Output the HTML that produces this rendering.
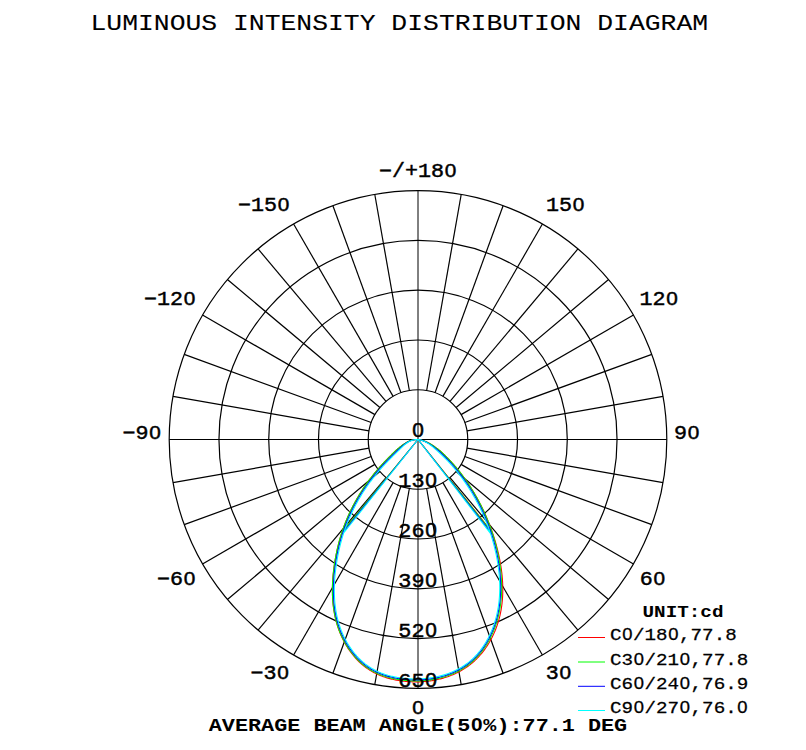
<!DOCTYPE html>
<html><head><meta charset="utf-8"><style>
html,body{margin:0;padding:0;background:#fff;width:806px;height:750px;overflow:hidden}
svg{position:absolute;left:0;top:0}
text{font-family:"Liberation Mono",monospace}
</style></head><body>
<svg width="806" height="750" viewBox="0 0 806 750">
<circle cx="418.0" cy="439.5" r="49.76" fill="none" stroke="#000" stroke-width="1.2"/>
<circle cx="418.0" cy="439.5" r="99.52" fill="none" stroke="#000" stroke-width="1.2"/>
<circle cx="418.0" cy="439.5" r="149.28" fill="none" stroke="#000" stroke-width="1.2"/>
<circle cx="418.0" cy="439.5" r="199.04" fill="none" stroke="#000" stroke-width="1.2"/>
<circle cx="418.0" cy="439.5" r="248.80" fill="none" stroke="#000" stroke-width="1.2"/>
<line x1="426.64" y1="488.50" x2="461.20" y2="684.52" stroke="#000" stroke-width="1.2"/>
<line x1="435.02" y1="486.26" x2="503.09" y2="673.30" stroke="#000" stroke-width="1.2"/>
<line x1="442.88" y1="482.59" x2="542.40" y2="654.97" stroke="#000" stroke-width="1.2"/>
<line x1="449.99" y1="477.62" x2="577.93" y2="630.09" stroke="#000" stroke-width="1.2"/>
<line x1="456.12" y1="471.49" x2="608.59" y2="599.43" stroke="#000" stroke-width="1.2"/>
<line x1="461.09" y1="464.38" x2="633.47" y2="563.90" stroke="#000" stroke-width="1.2"/>
<line x1="464.76" y1="456.52" x2="651.80" y2="524.59" stroke="#000" stroke-width="1.2"/>
<line x1="467.00" y1="448.14" x2="663.02" y2="482.70" stroke="#000" stroke-width="1.2"/>
<line x1="467.00" y1="430.86" x2="663.02" y2="396.30" stroke="#000" stroke-width="1.2"/>
<line x1="464.76" y1="422.48" x2="651.80" y2="354.41" stroke="#000" stroke-width="1.2"/>
<line x1="461.09" y1="414.62" x2="633.47" y2="315.10" stroke="#000" stroke-width="1.2"/>
<line x1="456.12" y1="407.51" x2="608.59" y2="279.57" stroke="#000" stroke-width="1.2"/>
<line x1="449.99" y1="401.38" x2="577.93" y2="248.91" stroke="#000" stroke-width="1.2"/>
<line x1="442.88" y1="396.41" x2="542.40" y2="224.03" stroke="#000" stroke-width="1.2"/>
<line x1="435.02" y1="392.74" x2="503.09" y2="205.70" stroke="#000" stroke-width="1.2"/>
<line x1="426.64" y1="390.50" x2="461.20" y2="194.48" stroke="#000" stroke-width="1.2"/>
<line x1="409.36" y1="390.50" x2="374.80" y2="194.48" stroke="#000" stroke-width="1.2"/>
<line x1="400.98" y1="392.74" x2="332.91" y2="205.70" stroke="#000" stroke-width="1.2"/>
<line x1="393.12" y1="396.41" x2="293.60" y2="224.03" stroke="#000" stroke-width="1.2"/>
<line x1="386.01" y1="401.38" x2="258.07" y2="248.91" stroke="#000" stroke-width="1.2"/>
<line x1="379.88" y1="407.51" x2="227.41" y2="279.57" stroke="#000" stroke-width="1.2"/>
<line x1="374.91" y1="414.62" x2="202.53" y2="315.10" stroke="#000" stroke-width="1.2"/>
<line x1="371.24" y1="422.48" x2="184.20" y2="354.41" stroke="#000" stroke-width="1.2"/>
<line x1="369.00" y1="430.86" x2="172.98" y2="396.30" stroke="#000" stroke-width="1.2"/>
<line x1="369.00" y1="448.14" x2="172.98" y2="482.70" stroke="#000" stroke-width="1.2"/>
<line x1="371.24" y1="456.52" x2="184.20" y2="524.59" stroke="#000" stroke-width="1.2"/>
<line x1="374.91" y1="464.38" x2="202.53" y2="563.90" stroke="#000" stroke-width="1.2"/>
<line x1="379.88" y1="471.49" x2="227.41" y2="599.43" stroke="#000" stroke-width="1.2"/>
<line x1="386.01" y1="477.62" x2="258.07" y2="630.09" stroke="#000" stroke-width="1.2"/>
<line x1="393.12" y1="482.59" x2="293.60" y2="654.97" stroke="#000" stroke-width="1.2"/>
<line x1="400.98" y1="486.26" x2="332.91" y2="673.30" stroke="#000" stroke-width="1.2"/>
<line x1="409.36" y1="488.50" x2="374.80" y2="684.52" stroke="#000" stroke-width="1.2"/>
<line x1="169.20" y1="439.5" x2="666.80" y2="439.5" stroke="#000" stroke-width="1"/>
<line x1="418.0" y1="190.70" x2="418.0" y2="688.30" stroke="#000" stroke-width="1"/>
<path d="M418.00,439.50L417.01,439.49L416.05,439.54L415.12,439.64L414.21,439.78L413.31,439.92L412.42,440.08L411.55,440.29L410.68,440.55L409.83,440.84L409.00,441.18L408.17,441.55L407.36,441.96L406.56,442.40L405.77,442.87L404.99,443.36L404.23,443.87L403.47,444.41L402.72,444.96L401.98,445.52L401.24,446.09L400.51,446.68L399.79,447.26L399.08,447.85L398.36,448.44L397.66,449.02L396.95,449.61L396.24,450.19L395.57,450.81L394.92,451.44L394.27,452.08L393.63,452.72L392.98,453.36L392.33,454.00L391.69,454.63L391.04,455.27L390.40,455.91L389.76,456.55L389.12,457.20L388.48,457.84L387.84,458.48L387.21,459.13L386.57,459.78L385.94,460.43L385.31,461.09L384.68,461.74L384.05,462.40L383.43,463.07L382.81,463.74L382.19,464.41L381.58,465.08L380.96,465.76L380.35,466.43L379.75,467.12L379.14,467.80L378.54,468.49L377.94,469.18L377.35,469.88L376.76,470.58L376.17,471.28L375.58,471.98L375.00,472.69L374.42,473.40L373.85,474.11L373.27,474.83L372.70,475.55L372.14,476.27L371.57,476.99L371.01,477.72L370.46,478.45L369.90,479.18L369.35,479.91L368.81,480.65L368.26,481.39L367.72,482.13L367.19,482.88L366.65,483.63L366.12,484.38L365.60,485.13L365.08,485.89L364.56,486.64L364.04,487.41L363.53,488.17L363.02,488.93L362.52,489.70L362.02,490.47L361.52,491.25L361.03,492.02L360.54,492.80L360.05,493.58L359.57,494.36L359.09,495.14L358.62,495.93L358.15,496.72L357.68,497.51L357.22,498.30L356.76,499.10L356.30,499.90L355.85,500.70L355.40,501.50L354.96,502.30L354.52,503.11L354.09,503.91L353.66,504.72L353.23,505.54L352.81,506.35L352.39,507.17L351.98,507.98L351.57,508.80L351.16,509.62L350.76,510.45L350.36,511.27L349.97,512.10L349.58,512.93L349.20,513.76L348.82,514.59L348.44,515.42L348.07,516.26L347.70,517.09L347.34,517.93L346.98,518.77L346.63,519.62L346.28,520.46L345.94,521.30L345.60,522.15L345.26,523.00L344.93,523.85L344.61,524.70L344.29,525.55L343.97,526.41L343.66,527.26L343.35,528.12L343.05,528.98L342.75,529.84L342.46,530.70L342.17,531.56L341.88,532.42L341.60,533.29L341.33,534.15L341.06,535.02L340.79,535.89L340.53,536.76L340.27,537.63L340.02,538.51L339.77,539.38L339.52,540.26L339.28,541.13L339.05,542.01L338.81,542.89L338.59,543.77L338.36,544.66L338.14,545.54L337.93,546.43L337.71,547.31L337.51,548.20L337.30,549.09L337.10,549.98L336.91,550.88L336.71,551.77L336.53,552.66L336.34,553.56L336.16,554.46L335.99,555.36L335.81,556.26L335.64,557.16L335.48,558.07L335.32,558.97L335.16,559.88L335.01,560.78L334.86,561.69L334.71,562.61L334.57,563.52L334.43,564.43L334.29,565.35L334.16,566.26L334.04,567.18L333.91,568.10L333.80,569.02L333.68,569.94L333.57,570.86L333.47,571.78L333.37,572.70L333.27,573.63L333.18,574.55L333.09,575.48L333.01,576.40L332.94,577.33L332.86,578.26L332.80,579.18L332.74,580.11L332.68,581.04L332.63,581.97L332.58,582.90L332.54,583.82L332.51,584.75L332.48,585.68L332.45,586.61L332.43,587.54L332.42,588.47L332.41,589.40L332.41,590.33L332.41,591.26L332.42,592.19L332.44,593.11L332.46,594.04L332.48,594.97L332.52,595.90L332.56,596.82L332.60,597.75L332.66,598.67L332.71,599.60L332.78,600.52L332.85,601.44L332.93,602.37L333.01,603.29L333.10,604.21L333.20,605.13L333.31,606.05L333.42,606.96L333.54,607.88L333.66,608.80L333.80,609.71L333.94,610.62L334.08,611.53L334.24,612.44L334.40,613.35L334.57,614.26L334.75,615.16L334.93,616.07L335.12,616.97L335.32,617.87L335.53,618.77L335.75,619.67L335.97,620.56L336.20,621.45L336.44,622.34L336.69,623.23L336.95,624.12L337.21,625.01L337.49,625.89L337.77,626.77L338.06,627.65L338.36,628.52L338.66,629.40L338.98,630.27L339.30,631.14L339.64,632.00L339.98,632.87L340.33,633.73L340.69,634.58L341.06,635.44L341.44,636.29L341.83,637.14L342.23,637.99L342.64,638.83L343.06,639.67L343.48,640.51L343.92,641.34L344.36,642.17L344.82,643.00L345.28,643.82L345.75,644.63L346.24,645.45L346.73,646.25L347.23,647.06L347.73,647.85L348.25,648.65L348.78,649.43L349.31,650.21L349.86,650.99L350.41,651.75L350.97,652.52L351.54,653.27L352.12,654.02L352.71,654.76L353.31,655.49L353.91,656.22L354.53,656.94L355.15,657.65L355.78,658.35L356.42,659.05L357.06,659.74L357.72,660.41L358.38,661.08L359.06,661.74L359.74,662.39L360.42,663.03L361.12,663.66L361.83,664.29L362.54,664.90L363.26,665.50L363.99,666.09L364.73,666.67L365.47,667.24L366.22,667.79L366.98,668.34L367.75,668.87L368.53,669.40L369.31,669.91L370.10,670.40L370.90,670.89L371.70,671.36L372.51,671.82L373.33,672.27L374.15,672.70L374.98,673.13L375.81,673.54L376.65,673.94L377.50,674.33L378.35,674.71L379.20,675.08L380.06,675.43L380.93,675.78L381.80,676.11L382.67,676.44L383.55,676.75L384.43,677.05L385.32,677.34L386.21,677.63L387.11,677.90L388.01,678.16L388.91,678.41L389.81,678.65L390.72,678.89L391.63,679.11L392.55,679.33L393.46,679.53L394.38,679.73L395.31,679.91L396.23,680.09L397.16,680.26L398.09,680.42L399.02,680.58L399.95,680.72L400.89,680.86L401.82,680.98L402.76,681.10L403.70,681.22L404.64,681.32L405.59,681.41L406.53,681.50L407.48,681.58L408.43,681.65L409.38,681.71L410.33,681.76L411.28,681.81L412.23,681.85L413.18,681.87L414.13,681.89L415.09,681.90L416.04,681.90L416.99,681.90L417.95,681.88L418.90,681.86L419.85,681.83L420.80,681.79L421.76,681.74L422.71,681.68L423.66,681.61L424.61,681.53L425.56,681.45L426.50,681.35L427.45,681.25L428.39,681.14L429.34,681.01L430.28,680.88L431.22,680.74L432.16,680.60L433.09,680.44L434.03,680.27L434.96,680.10L435.89,679.91L436.82,679.72L437.74,679.52L438.66,679.30L439.58,679.08L440.50,678.85L441.41,678.61L442.32,678.36L443.23,678.11L444.13,677.84L445.03,677.56L445.93,677.28L446.82,676.98L447.71,676.68L448.59,676.36L449.47,676.04L450.35,675.71L451.22,675.36L452.09,675.01L452.95,674.65L453.81,674.28L454.67,673.90L455.52,673.51L456.36,673.11L457.20,672.70L458.03,672.29L458.86,671.86L459.68,671.42L460.50,670.97L461.31,670.52L462.12,670.05L462.92,669.57L463.71,669.09L464.50,668.59L465.28,668.09L466.06,667.57L466.83,667.05L467.59,666.51L468.35,665.97L469.10,665.41L469.84,664.85L470.57,664.27L471.30,663.68L472.02,663.09L472.74,662.48L473.44,661.87L474.14,661.24L474.83,660.61L475.51,659.96L476.19,659.31L476.85,658.65L477.51,657.98L478.16,657.30L478.80,656.61L479.43,655.91L480.06,655.21L480.67,654.50L481.28,653.78L481.88,653.05L482.47,652.32L483.06,651.57L483.63,650.83L484.20,650.07L484.76,649.31L485.31,648.54L485.86,647.76L486.39,646.98L486.92,646.19L487.43,645.40L487.94,644.60L488.44,643.80L488.93,642.98L489.42,642.17L489.89,641.35L490.36,640.52L490.82,639.69L491.27,638.86L491.71,638.02L492.14,637.17L492.56,636.33L492.97,635.47L493.38,634.62L493.78,633.76L494.16,632.90L494.54,632.03L494.91,631.16L495.27,630.29L495.62,629.42L495.96,628.54L496.30,627.66L496.62,626.78L496.94,625.90L497.24,625.01L497.54,624.12L497.83,623.23L498.11,622.33L498.38,621.44L498.64,620.54L498.89,619.64L499.14,618.74L499.38,617.83L499.61,616.93L499.82,616.02L500.04,615.11L500.24,614.20L500.43,613.28L500.62,612.37L500.80,611.45L500.97,610.54L501.13,609.62L501.29,608.70L501.43,607.78L501.57,606.85L501.70,605.93L501.82,605.00L501.94,604.08L502.04,603.15L502.14,602.22L502.24,601.30L502.32,600.37L502.40,599.44L502.47,598.51L502.53,597.57L502.59,596.64L502.64,595.71L502.68,594.78L502.71,593.84L502.74,592.91L502.76,591.98L502.77,591.04L502.78,590.11L502.78,589.17L502.78,588.24L502.77,587.30L502.75,586.37L502.72,585.43L502.69,584.50L502.65,583.56L502.61,582.63L502.56,581.70L502.50,580.76L502.44,579.83L502.38,578.90L502.30,577.96L502.22,577.03L502.14,576.10L502.05,575.17L501.95,574.24L501.85,573.31L501.74,572.38L501.63,571.45L501.51,570.52L501.39,569.59L501.26,568.67L501.12,567.74L500.99,566.81L500.84,565.89L500.69,564.97L500.54,564.05L500.38,563.12L500.22,562.21L500.05,561.29L499.88,560.37L499.70,559.45L499.52,558.54L499.33,557.62L499.14,556.71L498.94,555.80L498.74,554.89L498.54,553.98L498.33,553.08L498.12,552.17L497.90,551.27L497.68,550.36L497.46,549.46L497.23,548.57L497.00,547.67L496.76,546.77L496.52,545.88L496.28,544.99L496.03,544.10L495.78,543.21L495.53,542.32L495.27,541.44L495.01,540.56L494.74,539.68L494.47,538.80L494.20,537.92L493.93,537.04L493.65,536.17L493.36,535.30L493.08,534.43L492.79,533.56L492.49,532.69L492.19,531.83L491.89,530.96L491.59,530.10L491.28,529.24L490.97,528.39L490.65,527.53L490.33,526.68L490.01,525.82L489.69,524.97L489.36,524.12L489.02,523.28L488.69,522.43L488.35,521.59L488.00,520.74L487.65,519.90L487.30,519.06L486.95,518.23L486.59,517.39L486.23,516.56L485.86,515.72L485.49,514.89L485.12,514.07L484.75,513.24L484.37,512.41L483.98,511.59L483.60,510.77L483.21,509.95L482.81,509.13L482.42,508.31L482.01,507.50L481.61,506.68L481.20,505.87L480.79,505.06L480.38,504.25L479.96,503.45L479.53,502.64L479.11,501.84L478.68,501.03L478.25,500.23L477.81,499.44L477.37,498.64L476.93,497.84L476.48,497.05L476.03,496.26L475.57,495.47L475.12,494.68L474.65,493.89L474.19,493.11L473.72,492.32L473.25,491.54L472.77,490.76L472.29,489.98L471.81,489.21L471.32,488.43L470.83,487.66L470.34,486.88L469.84,486.11L469.34,485.35L468.84,484.58L468.33,483.81L467.82,483.05L467.30,482.29L466.78,481.53L466.26,480.78L465.74,480.02L465.21,479.27L464.67,478.52L464.14,477.78L463.60,477.04L463.05,476.29L462.51,475.56L461.95,474.82L461.40,474.09L460.84,473.36L460.28,472.63L459.72,471.91L459.15,471.19L458.58,470.47L458.00,469.76L457.42,469.05L456.84,468.34L456.25,467.64L455.66,466.94L455.07,466.24L454.47,465.55L453.87,464.86L453.27,464.18L452.66,463.50L452.05,462.82L451.44,462.15L450.82,461.48L450.20,460.82L449.57,460.16L448.95,459.50L448.31,458.85L447.68,458.20L447.04,457.56L446.40,456.92L445.76,456.28L445.12,455.64L444.47,455.01L443.82,454.38L443.16,453.75L442.50,453.12L441.84,452.50L441.18,451.88L440.51,451.26L439.84,450.64L439.12,450.08L438.38,449.53L437.65,448.98L436.91,448.43L436.17,447.88L435.42,447.33L434.67,446.79L433.91,446.26L433.14,445.73L432.37,445.22L431.58,444.71L430.80,444.23L430.00,443.75L429.20,443.30L428.39,442.87L427.57,442.45L426.74,442.07L425.90,441.70L425.05,441.37L424.20,441.06L423.33,440.79L422.46,440.55L421.59,440.31L420.71,440.05L419.83,439.83L418.92,439.65L418.00,439.50M418.00,439.50L341.88,532.42M418.00,439.50L492.49,532.69" fill="none" stroke="#ff0000" stroke-width="1.1" stroke-linejoin="round"/>
<path d="M418.00,439.50L417.01,439.49L416.05,439.54L415.12,439.64L414.21,439.78L413.31,439.92L412.42,440.08L411.55,440.29L410.68,440.55L409.83,440.84L409.00,441.18L408.17,441.55L407.36,441.96L406.56,442.40L405.77,442.87L404.99,443.36L404.23,443.87L403.47,444.41L402.72,444.96L401.98,445.52L401.24,446.09L400.51,446.68L399.79,447.26L399.08,447.85L398.36,448.44L397.66,449.02L396.95,449.61L396.24,450.19L395.57,450.81L394.92,451.44L394.27,452.08L393.63,452.72L392.98,453.36L392.33,454.00L391.69,454.63L391.04,455.27L390.40,455.91L389.76,456.55L389.12,457.20L388.48,457.84L387.84,458.48L387.21,459.13L386.57,459.78L385.94,460.43L385.31,461.09L384.68,461.74L384.05,462.40L383.43,463.07L382.81,463.74L382.19,464.41L381.58,465.08L380.96,465.76L380.35,466.43L379.75,467.12L379.14,467.80L378.54,468.49L377.94,469.18L377.35,469.88L376.76,470.58L376.17,471.28L375.58,471.98L375.00,472.69L374.42,473.40L373.85,474.11L373.27,474.83L372.70,475.55L372.14,476.27L371.57,476.99L371.01,477.72L370.46,478.45L369.90,479.18L369.35,479.91L368.81,480.65L368.26,481.39L367.72,482.13L367.19,482.88L366.65,483.63L366.12,484.38L365.60,485.13L365.08,485.89L364.56,486.64L364.04,487.41L363.53,488.17L363.02,488.93L362.52,489.70L362.02,490.47L361.52,491.25L361.03,492.02L360.54,492.80L360.05,493.58L359.57,494.36L359.09,495.14L358.62,495.93L358.15,496.72L357.68,497.51L357.22,498.30L356.76,499.10L356.30,499.90L355.85,500.70L355.40,501.50L354.96,502.30L354.52,503.11L354.09,503.91L353.66,504.72L353.23,505.54L352.81,506.35L352.39,507.17L351.98,507.98L351.57,508.80L351.16,509.62L350.76,510.45L350.36,511.27L349.97,512.10L349.58,512.93L349.20,513.76L348.82,514.59L348.44,515.42L348.07,516.26L347.70,517.09L347.34,517.93L346.98,518.77L346.63,519.62L346.28,520.46L345.94,521.30L345.60,522.15L345.26,523.00L344.93,523.85L344.61,524.70L344.29,525.55L343.97,526.41L343.66,527.26L343.35,528.12L343.05,528.98L342.75,529.84L342.46,530.70L342.17,531.56L341.88,532.42L341.60,533.29L341.33,534.15L341.06,535.02L340.79,535.89L340.53,536.76L340.27,537.63L340.02,538.51L339.77,539.38L339.52,540.26L339.28,541.13L339.05,542.01L338.81,542.89L338.59,543.77L338.36,544.66L338.14,545.54L337.93,546.43L337.71,547.31L337.51,548.20L337.30,549.09L337.10,549.98L336.91,550.88L336.71,551.77L336.53,552.66L336.34,553.56L336.16,554.46L335.99,555.36L335.81,556.26L335.64,557.16L335.48,558.07L335.32,558.97L335.16,559.88L335.01,560.78L334.86,561.69L334.71,562.61L334.57,563.52L334.43,564.43L334.29,565.35L334.16,566.26L334.04,567.18L333.91,568.10L333.80,569.02L333.68,569.94L333.57,570.86L333.47,571.78L333.37,572.70L333.27,573.63L333.18,574.55L333.09,575.48L333.01,576.40L332.94,577.33L332.86,578.26L332.80,579.18L332.74,580.11L332.68,581.04L332.63,581.97L332.58,582.90L332.54,583.82L332.51,584.75L332.48,585.68L332.45,586.61L332.43,587.54L332.42,588.47L332.41,589.40L332.41,590.33L332.42,591.26L332.43,592.19L332.44,593.11L332.46,594.04L332.49,594.97L332.53,595.90L332.57,596.82L332.62,597.75L332.67,598.67L332.73,599.60L332.80,600.52L332.87,601.44L332.95,602.36L333.04,603.29L333.13,604.21L333.23,605.12L333.34,606.04L333.45,606.96L333.58,607.87L333.71,608.79L333.84,609.70L333.99,610.61L334.14,611.52L334.29,612.43L334.46,613.34L334.63,614.25L334.81,615.15L335.00,616.05L335.20,616.95L335.40,617.85L335.62,618.75L335.84,619.64L336.07,620.54L336.30,621.43L336.55,622.32L336.80,623.20L337.06,624.09L337.33,624.97L337.61,625.85L337.90,626.73L338.19,627.60L338.50,628.47L338.81,629.34L339.13,630.21L339.46,631.08L339.80,631.94L340.15,632.80L340.51,633.65L340.88,634.51L341.25,635.36L341.64,636.20L342.03,637.05L342.44,637.89L342.85,638.73L343.27,639.56L343.71,640.39L344.15,641.22L344.60,642.04L345.06,642.86L345.53,643.67L346.01,644.48L346.49,645.29L346.99,646.09L347.50,646.88L348.01,647.67L348.53,648.45L349.07,649.23L349.61,650.00L350.16,650.77L350.72,651.53L351.28,652.28L351.86,653.02L352.44,653.76L353.04,654.49L353.64,655.22L354.25,655.93L354.86,656.64L355.49,657.34L356.12,658.03L356.77,658.72L357.42,659.39L358.07,660.06L358.74,660.71L359.42,661.36L360.10,662.00L360.79,662.63L361.49,663.25L362.19,663.86L362.91,664.45L363.63,665.04L364.36,665.62L365.09,666.18L365.84,666.74L366.59,667.28L367.35,667.81L368.11,668.33L368.89,668.84L369.67,669.34L370.45,669.82L371.25,670.29L372.05,670.75L372.85,671.20L373.66,671.63L374.48,672.06L375.31,672.47L376.13,672.87L376.97,673.25L377.81,673.63L378.65,674.00L379.50,674.35L380.36,674.70L381.22,675.03L382.08,675.35L382.95,675.66L383.82,675.96L384.69,676.26L385.57,676.54L386.46,676.81L387.35,677.07L388.24,677.32L389.13,677.56L390.03,677.80L390.93,678.02L391.84,678.24L392.74,678.44L393.65,678.64L394.56,678.83L395.48,679.01L396.40,679.18L397.32,679.34L398.24,679.49L399.16,679.64L400.09,679.78L401.01,679.91L401.94,680.03L402.87,680.15L403.81,680.25L404.74,680.35L405.68,680.44L406.62,680.52L407.55,680.60L408.49,680.67L409.43,680.72L410.38,680.77L411.32,680.82L412.26,680.85L413.20,680.88L414.15,680.89L415.09,680.90L416.04,680.90L416.98,680.90L417.92,680.88L418.87,680.86L419.81,680.83L420.76,680.78L421.70,680.74L422.64,680.68L423.58,680.61L424.52,680.54L425.46,680.45L426.40,680.36L427.34,680.26L428.27,680.15L429.21,680.03L430.14,679.91L431.07,679.77L432.00,679.63L432.93,679.47L433.85,679.31L434.78,679.14L435.70,678.96L436.62,678.77L437.53,678.58L438.45,678.37L439.36,678.15L440.26,677.93L441.17,677.70L442.07,677.45L442.97,677.20L443.86,676.94L444.76,676.67L445.64,676.39L446.53,676.10L447.41,675.80L448.28,675.50L449.16,675.18L450.03,674.85L450.89,674.52L451.75,674.17L452.60,673.82L453.45,673.46L454.30,673.08L455.14,672.70L455.98,672.31L456.81,671.90L457.63,671.49L458.45,671.07L459.26,670.64L460.07,670.20L460.87,669.75L461.67,669.29L462.46,668.82L463.25,668.34L464.02,667.84L464.80,667.34L465.56,666.83L466.32,666.31L467.07,665.78L467.82,665.24L468.55,664.69L469.28,664.13L470.01,663.56L470.72,662.98L471.43,662.39L472.13,661.79L472.82,661.18L473.51,660.55L474.18,659.92L474.85,659.28L475.51,658.63L476.16,657.97L476.80,657.31L477.44,656.63L478.06,655.95L478.68,655.25L479.29,654.55L479.89,653.84L480.49,653.13L481.07,652.40L481.65,651.67L482.22,650.93L482.78,650.19L483.33,649.44L483.87,648.68L484.40,647.91L484.93,647.14L485.45,646.36L485.96,645.58L486.46,644.79L486.95,643.99L487.44,643.19L487.91,642.39L488.38,641.58L488.84,640.76L489.29,639.94L489.73,639.12L490.17,638.29L490.59,637.46L491.01,636.62L491.42,635.78L491.81,634.93L492.21,634.09L492.59,633.23L492.96,632.38L493.33,631.52L493.69,630.66L494.03,629.80L494.37,628.94L494.70,628.07L495.03,627.20L495.34,626.33L495.65,625.45L495.95,624.58L496.24,623.70L496.52,622.82L496.79,621.93L497.06,621.05L497.31,620.16L497.56,619.27L497.80,618.38L498.04,617.49L498.26,616.59L498.48,615.70L498.69,614.80L498.89,613.90L499.09,613.00L499.28,612.10L499.45,611.19L499.63,610.29L499.79,609.38L499.95,608.47L500.10,607.56L500.24,606.65L500.38,605.74L500.51,604.82L500.63,603.91L500.74,602.99L500.85,602.08L500.95,601.16L501.04,600.24L501.13,599.32L501.21,598.40L501.28,597.48L501.35,596.56L501.41,595.63L501.46,594.71L501.51,593.79L501.55,592.86L501.58,591.94L501.61,591.01L501.63,590.09L501.64,589.16L501.65,588.23L501.65,587.30L501.65,586.38L501.63,585.45L501.62,584.52L501.60,583.59L501.57,582.67L501.53,581.74L501.49,580.81L501.45,579.88L501.39,578.95L501.34,578.03L501.27,577.10L501.20,576.17L501.13,575.24L501.05,574.32L500.96,573.39L500.87,572.46L500.78,571.54L500.67,570.61L500.57,569.69L500.46,568.76L500.34,567.84L500.22,566.92L500.09,566.00L499.96,565.08L499.82,564.16L499.68,563.24L499.53,562.32L499.38,561.40L499.22,560.48L499.06,559.57L498.89,558.65L498.72,557.74L498.55,556.83L498.37,555.92L498.18,555.01L497.99,554.10L497.80,553.19L497.60,552.28L497.40,551.38L497.20,550.48L496.99,549.58L496.77,548.68L496.55,547.78L496.33,546.88L496.10,545.99L495.87,545.09L495.64,544.20L495.40,543.31L495.16,542.42L494.91,541.54L494.66,540.65L494.41,539.77L494.15,538.89L493.89,538.01L493.63,537.13L493.36,536.26L493.08,535.39L492.81,534.51L492.53,533.64L492.24,532.77L491.95,531.91L491.66,531.04L491.37,530.18L491.07,529.32L490.76,528.46L490.46,527.60L490.15,526.74L489.83,525.89L489.51,525.04L489.19,524.19L488.86,523.34L488.53,522.49L488.20,521.64L487.86,520.80L487.52,519.96L487.18,519.12L486.83,518.28L486.47,517.44L486.12,516.60L485.76,515.77L485.39,514.94L485.03,514.11L484.66,513.28L484.28,512.45L483.90,511.63L483.52,510.80L483.13,509.98L482.74,509.16L482.35,508.34L481.95,507.53L481.55,506.71L481.15,505.90L480.74,505.09L480.33,504.28L479.91,503.47L479.49,502.66L479.07,501.86L478.64,501.06L478.21,500.25L477.78,499.45L477.34,498.66L476.90,497.86L476.45,497.07L476.00,496.27L475.55,495.48L475.09,494.69L474.63,493.91L474.17,493.12L473.70,492.34L473.23,491.55L472.76,490.77L472.28,489.99L471.80,489.21L471.31,488.44L470.82,487.66L470.33,486.89L469.83,486.12L469.33,485.35L468.83,484.59L468.32,483.82L467.81,483.06L467.30,482.30L466.78,481.54L466.26,480.78L465.73,480.03L465.20,479.28L464.67,478.53L464.13,477.78L463.59,477.04L463.05,476.30L462.50,475.56L461.95,474.82L461.40,474.09L460.84,473.36L460.28,472.63L459.71,471.91L459.15,471.19L458.57,470.47L458.00,469.76L457.42,469.05L456.84,468.34L456.25,467.64L455.66,466.94L455.07,466.25L454.47,465.55L453.87,464.87L453.27,464.18L452.66,463.50L452.05,462.82L451.43,462.15L450.82,461.48L450.20,460.82L449.57,460.16L448.95,459.50L448.31,458.85L447.68,458.20L447.04,457.56L446.40,456.92L445.76,456.28L445.12,455.64L444.47,455.01L443.82,454.38L443.16,453.75L442.50,453.12L441.84,452.50L441.18,451.88L440.51,451.26L439.84,450.64L439.12,450.08L438.38,449.53L437.65,448.98L436.91,448.43L436.17,447.88L435.42,447.33L434.67,446.79L433.91,446.26L433.14,445.73L432.37,445.22L431.58,444.71L430.80,444.23L430.00,443.75L429.20,443.30L428.39,442.87L427.57,442.45L426.74,442.07L425.90,441.70L425.05,441.37L424.20,441.06L423.33,440.79L422.46,440.55L421.59,440.31L420.71,440.05L419.83,439.83L418.92,439.65L418.00,439.50M418.00,439.50L341.88,532.42M418.00,439.50L492.24,532.77" fill="none" stroke="#00ff00" stroke-width="1.1" stroke-linejoin="round"/>
<path d="M418.00,439.50L417.01,439.49L416.05,439.54L415.12,439.64L414.21,439.78L413.32,439.95L412.45,440.16L411.59,440.41L410.75,440.70L409.92,441.03L409.12,441.40L408.32,441.81L407.54,442.24L406.78,442.71L406.02,443.20L405.28,443.72L404.55,444.26L403.83,444.82L403.11,445.40L402.41,445.99L401.71,446.59L401.02,447.20L400.33,447.81L399.65,448.43L398.96,449.05L398.29,449.66L397.61,450.28L396.93,450.89L396.27,451.52L395.62,452.16L394.98,452.79L394.33,453.43L393.68,454.07L393.04,454.71L392.39,455.34L391.75,455.98L391.11,456.62L390.47,457.26L389.83,457.90L389.19,458.54L388.55,459.19L387.92,459.83L387.29,460.48L386.66,461.13L386.03,461.78L385.40,462.43L384.78,463.09L384.16,463.75L383.54,464.41L382.93,465.08L382.31,465.75L381.71,466.42L381.10,467.10L380.50,467.78L379.89,468.46L379.30,469.15L378.70,469.84L378.11,470.53L377.52,471.22L376.94,471.92L376.35,472.62L375.77,473.32L375.20,474.03L374.62,474.74L374.05,475.45L373.49,476.16L372.92,476.88L372.36,477.60L371.81,478.33L371.25,479.05L370.70,479.78L370.15,480.51L369.61,481.24L369.07,481.98L368.53,482.72L368.00,483.46L367.47,484.21L366.94,484.95L366.42,485.70L365.90,486.45L365.38,487.21L364.87,487.96L364.36,488.72L363.86,489.49L363.35,490.25L362.86,491.02L362.36,491.78L361.87,492.56L361.38,493.33L360.90,494.10L360.42,494.88L359.95,495.66L359.47,496.45L359.01,497.23L358.54,498.02L358.08,498.81L357.62,499.60L357.17,500.39L356.72,501.18L356.28,501.98L355.84,502.78L355.40,503.58L354.97,504.39L354.54,505.19L354.12,506.00L353.70,506.81L353.28,507.62L352.87,508.43L352.46,509.25L352.06,510.06L351.66,510.88L351.26,511.70L350.87,512.52L350.49,513.35L350.10,514.17L349.73,515.00L349.35,515.83L348.98,516.66L348.62,517.49L348.26,518.33L347.90,519.16L347.55,520.00L347.21,520.84L346.86,521.68L346.53,522.52L346.19,523.36L345.87,524.21L345.54,525.05L345.22,525.90L344.91,526.75L344.60,527.60L344.29,528.45L343.99,529.31L343.70,530.16L343.41,531.02L343.12,531.87L342.84,532.73L342.56,533.59L342.28,534.45L342.01,535.32L341.75,536.18L341.49,537.05L341.23,537.91L340.98,538.78L340.73,539.65L340.49,540.52L340.25,541.40L340.01,542.27L339.78,543.15L339.55,544.02L339.33,544.90L339.11,545.78L338.90,546.66L338.69,547.54L338.48,548.43L338.28,549.31L338.08,550.20L337.88,551.09L337.69,551.98L337.51,552.87L337.32,553.76L337.14,554.65L336.97,555.55L336.80,556.45L336.63,557.34L336.46,558.24L336.30,559.14L336.15,560.05L335.99,560.95L335.84,561.86L335.70,562.76L335.55,563.67L335.42,564.58L335.28,565.49L335.15,566.40L335.03,567.31L334.90,568.23L334.79,569.14L334.67,570.06L334.57,570.97L334.46,571.89L334.36,572.81L334.27,573.73L334.18,574.65L334.09,575.57L334.01,576.49L333.93,577.41L333.86,578.33L333.79,579.25L333.73,580.17L333.68,581.10L333.63,582.02L333.58,582.94L333.54,583.87L333.51,584.79L333.48,585.71L333.45,586.64L333.43,587.56L333.42,588.48L333.41,589.40L333.41,590.33L333.42,591.25L333.43,592.17L333.44,593.09L333.46,594.01L333.49,594.93L333.53,595.85L333.57,596.77L333.61,597.69L333.67,598.61L333.73,599.53L333.79,600.44L333.87,601.36L333.95,602.27L334.03,603.19L334.13,604.10L334.23,605.01L334.33,605.92L334.45,606.83L334.57,607.74L334.70,608.65L334.83,609.55L334.97,610.45L335.12,611.36L335.28,612.26L335.44,613.16L335.62,614.05L335.79,614.95L335.98,615.84L336.18,616.73L336.38,617.62L336.59,618.51L336.81,619.40L337.03,620.28L337.27,621.17L337.51,622.05L337.76,622.92L338.02,623.80L338.29,624.67L338.56,625.54L338.85,626.41L339.14,627.28L339.44,628.14L339.75,629.00L340.07,629.86L340.39,630.71L340.73,631.57L341.08,632.42L341.43,633.26L341.79,634.11L342.16,634.95L342.54,635.78L342.94,636.62L343.33,637.45L343.74,638.28L344.16,639.10L344.59,639.93L345.03,640.74L345.47,641.56L345.93,642.36L346.39,643.17L346.86,643.97L347.35,644.76L347.84,645.56L348.34,646.34L348.85,647.12L349.36,647.89L349.89,648.66L350.42,649.42L350.97,650.18L351.52,650.93L352.08,651.67L352.65,652.41L353.22,653.14L353.81,653.86L354.40,654.57L355.00,655.28L355.61,655.98L356.23,656.67L356.86,657.35L357.49,658.03L358.13,658.69L358.78,659.35L359.44,660.00L360.10,660.64L360.78,661.27L361.46,661.88L362.14,662.49L362.84,663.09L363.54,663.68L364.25,664.26L364.97,664.83L365.70,665.39L366.43,665.93L367.17,666.47L367.91,666.99L368.67,667.50L369.43,668.00L370.20,668.49L370.97,668.97L371.75,669.43L372.54,669.88L373.33,670.32L374.13,670.75L374.94,671.16L375.75,671.57L376.56,671.96L377.38,672.34L378.21,672.72L379.04,673.08L379.88,673.43L380.72,673.77L381.57,674.09L382.42,674.41L383.28,674.72L384.14,675.02L385.00,675.31L385.87,675.58L386.75,675.85L387.62,676.11L388.50,676.36L389.39,676.60L390.28,676.83L391.17,677.05L392.06,677.26L392.96,677.47L393.86,677.66L394.76,677.85L395.67,678.02L396.58,678.19L397.49,678.35L398.40,678.51L399.31,678.65L400.23,678.79L401.15,678.92L402.07,679.04L402.99,679.15L403.92,679.26L404.84,679.36L405.77,679.45L406.70,679.53L407.63,679.60L408.56,679.67L409.49,679.73L410.42,679.78L411.36,679.82L412.29,679.85L413.23,679.88L414.16,679.89L415.10,679.90L416.03,679.90L416.97,679.90L417.90,679.88L418.84,679.86L419.77,679.83L420.71,679.79L421.64,679.74L422.58,679.68L423.51,679.61L424.44,679.54L425.37,679.46L426.30,679.37L427.23,679.27L428.15,679.16L429.08,679.04L430.00,678.92L430.92,678.78L431.84,678.64L432.76,678.49L433.68,678.33L434.59,678.16L435.50,677.98L436.41,677.79L437.32,677.60L438.22,677.39L439.12,677.18L440.02,676.96L440.91,676.73L441.81,676.49L442.69,676.24L443.58,675.98L444.46,675.71L445.34,675.44L446.21,675.15L447.08,674.86L447.95,674.55L448.81,674.24L449.67,673.92L450.52,673.59L451.37,673.25L452.22,672.90L453.06,672.54L453.89,672.17L454.72,671.79L455.54,671.40L456.36,671.01L457.18,670.60L457.99,670.18L458.79,669.76L459.59,669.32L460.38,668.88L461.16,668.42L461.94,667.96L462.72,667.49L463.49,667.00L464.25,666.51L465.00,666.01L465.75,665.49L466.49,664.97L467.22,664.44L467.95,663.89L468.67,663.34L469.38,662.78L470.09,662.21L470.78,661.63L471.47,661.03L472.16,660.43L472.83,659.82L473.50,659.20L474.15,658.57L474.80,657.93L475.44,657.28L476.08,656.62L476.70,655.95L477.32,655.28L477.93,654.59L478.53,653.90L479.13,653.20L479.71,652.50L480.29,651.78L480.86,651.06L481.42,650.33L481.97,649.59L482.52,648.85L483.05,648.10L483.58,647.34L484.10,646.58L484.61,645.81L485.12,645.04L485.61,644.26L486.10,643.47L486.58,642.68L487.05,641.88L487.51,641.08L487.96,640.28L488.41,639.46L488.85,638.65L489.28,637.83L489.70,637.00L490.11,636.18L490.51,635.35L490.91,634.51L491.30,633.67L491.67,632.83L492.04,631.98L492.41,631.13L492.76,630.28L493.10,629.43L493.44,628.57L493.77,627.72L494.09,626.86L494.40,625.99L494.70,625.13L495.00,624.26L495.28,623.39L495.56,622.52L495.83,621.64L496.10,620.77L496.35,619.89L496.60,619.01L496.84,618.12L497.07,617.24L497.29,616.35L497.51,615.47L497.72,614.58L497.92,613.69L498.11,612.79L498.30,611.90L498.47,611.00L498.64,610.10L498.81,609.21L498.96,608.30L499.11,607.40L499.25,606.50L499.39,605.59L499.52,604.69L499.64,603.78L499.75,602.87L499.85,601.97L499.95,601.05L500.05,600.14L500.13,599.23L500.21,598.32L500.28,597.40L500.35,596.49L500.41,595.57L500.46,594.66L500.51,593.74L500.55,592.82L500.58,591.90L500.61,590.99L500.63,590.07L500.64,589.15L500.65,588.23L500.65,587.31L500.65,586.39L500.63,585.46L500.62,584.54L500.60,583.62L500.57,582.70L500.53,581.78L500.49,580.86L500.45,579.93L500.40,579.01L500.34,578.09L500.28,577.17L500.21,576.25L500.13,575.33L500.05,574.41L499.97,573.48L499.88,572.56L499.78,571.64L499.68,570.73L499.58,569.81L499.46,568.89L499.35,567.97L499.23,567.05L499.10,566.14L498.97,565.22L498.83,564.31L498.69,563.39L498.54,562.48L498.39,561.57L498.24,560.65L498.08,559.74L497.91,558.83L497.74,557.93L497.57,557.02L497.39,556.11L497.20,555.21L497.02,554.30L496.82,553.40L496.63,552.50L496.43,551.60L496.22,550.70L496.01,549.81L495.80,548.91L495.58,548.02L495.36,547.12L495.13,546.23L494.91,545.35L494.67,544.46L494.44,543.57L494.19,542.69L493.95,541.81L493.70,540.93L493.45,540.05L493.19,539.17L492.93,538.30L492.67,537.43L492.40,536.56L492.13,535.69L491.85,534.82L491.58,533.95L491.29,533.09L491.01,532.23L490.72,531.37L490.42,530.51L490.12,529.65L489.82,528.79L489.52,527.94L489.21,527.09L488.89,526.24L488.58,525.39L488.26,524.54L487.93,523.70L487.60,522.85L487.27,522.01L486.93,521.17L486.60,520.33L486.25,519.50L485.91,518.66L485.55,517.83L485.20,517.00L484.84,516.17L484.48,515.34L484.11,514.51L483.74,513.69L483.37,512.87L482.99,512.05L482.61,511.23L482.23,510.41L481.84,509.59L481.45,508.78L481.05,507.97L480.66,507.16L480.25,506.35L479.85,505.54L479.44,504.73L479.02,503.93L478.60,503.13L478.18,502.33L477.76,501.53L477.33,500.73L476.90,499.93L476.46,499.14L476.02,498.35L475.58,497.56L475.13,496.77L474.68,495.98L474.23,495.20L473.77,494.41L473.31,493.63L472.84,492.85L472.37,492.07L471.90,491.29L471.43,490.52L470.95,489.74L470.46,488.97L469.98,488.20L469.49,487.43L468.99,486.66L468.50,485.90L467.99,485.14L467.49,484.38L466.98,483.62L466.47,482.86L465.95,482.10L465.43,481.35L464.91,480.60L464.39,479.85L463.86,479.11L463.32,478.37L462.79,477.63L462.24,476.89L461.70,476.16L461.15,475.42L460.60,474.70L460.05,473.97L459.49,473.25L458.93,472.53L458.36,471.81L457.79,471.10L457.22,470.39L456.65,469.68L456.07,468.98L455.48,468.28L454.90,467.59L454.31,466.90L453.72,466.21L453.12,465.52L452.52,464.84L451.92,464.17L451.31,463.50L450.70,462.83L450.08,462.17L449.47,461.51L448.85,460.85L448.22,460.20L447.60,459.55L446.97,458.90L446.33,458.26L445.70,457.62L445.06,456.99L444.42,456.36L443.77,455.73L443.12,455.10L442.47,454.47L441.81,453.85L441.16,453.23L440.50,452.61L439.83,451.99L439.16,451.38L438.47,450.79L437.77,450.21L437.07,449.62L436.36,449.04L435.65,448.46L434.94,447.89L434.22,447.32L433.49,446.75L432.76,446.20L432.02,445.65L431.27,445.12L430.52,444.60L429.75,444.10L428.98,443.62L428.20,443.15L427.41,442.71L426.61,442.29L425.80,441.89L424.98,441.52L424.15,441.17L423.31,440.86L422.45,440.57L421.59,440.31L420.71,440.05L419.83,439.83L418.92,439.65L418.00,439.50M418.00,439.50L342.84,532.73M418.00,439.50L491.29,533.09" fill="none" stroke="#0000ff" stroke-width="1.1" stroke-linejoin="round"/>
<path d="M418.00,439.50L417.01,439.49L416.05,439.54L415.12,439.64L414.21,439.78L413.33,439.98L412.47,440.22L411.63,440.51L410.81,440.84L410.01,441.20L409.22,441.60L408.46,442.03L407.71,442.50L406.97,442.99L406.25,443.51L405.54,444.05L404.84,444.61L404.15,445.20L403.47,445.80L402.79,446.41L402.13,447.03L401.47,447.66L400.81,448.30L400.16,448.95L399.51,449.59L398.85,450.24L398.20,450.88L397.55,451.52L396.90,452.16L396.26,452.80L395.61,453.44L394.96,454.07L394.31,454.71L393.67,455.35L393.03,455.98L392.38,456.62L391.74,457.26L391.10,457.90L390.46,458.54L389.83,459.18L389.19,459.82L388.56,460.46L387.93,461.11L387.30,461.75L386.68,462.40L386.06,463.05L385.44,463.71L384.82,464.37L384.20,465.03L383.59,465.69L382.98,466.36L382.37,467.03L381.77,467.70L381.17,468.38L380.57,469.06L379.98,469.74L379.38,470.42L378.80,471.11L378.21,471.80L377.63,472.50L377.05,473.19L376.47,473.89L375.90,474.60L375.33,475.30L374.76,476.01L374.19,476.72L373.63,477.44L373.07,478.15L372.52,478.87L371.97,479.60L371.42,480.32L370.88,481.05L370.34,481.78L369.80,482.51L369.26,483.25L368.73,483.99L368.20,484.73L367.68,485.47L367.16,486.22L366.64,486.96L366.13,487.71L365.62,488.47L365.11,489.22L364.61,489.98L364.11,490.74L363.61,491.50L363.12,492.27L362.63,493.04L362.15,493.81L361.67,494.58L361.19,495.35L360.71,496.13L360.25,496.91L359.78,497.69L359.32,498.47L358.86,499.26L358.40,500.04L357.95,500.83L357.51,501.62L357.07,502.42L356.63,503.21L356.19,504.01L355.76,504.81L355.34,505.61L354.91,506.42L354.50,507.22L354.08,508.03L353.67,508.84L353.27,509.65L352.87,510.46L352.47,511.27L352.07,512.09L351.69,512.91L351.30,513.73L350.92,514.55L350.55,515.37L350.17,516.20L349.81,517.02L349.44,517.85L349.09,518.68L348.73,519.51L348.38,520.35L348.04,521.18L347.70,522.02L347.36,522.85L347.03,523.69L346.71,524.53L346.38,525.37L346.07,526.22L345.75,527.06L345.45,527.91L345.14,528.75L344.84,529.60L344.55,530.45L344.26,531.30L343.97,532.16L343.69,533.01L343.41,533.87L343.14,534.72L342.87,535.58L342.61,536.44L342.35,537.30L342.10,538.17L341.84,539.03L341.60,539.90L341.36,540.76L341.12,541.63L340.88,542.50L340.65,543.37L340.43,544.25L340.20,545.12L339.99,546.00L339.77,546.87L339.56,547.75L339.36,548.63L339.16,549.51L338.96,550.39L338.76,551.28L338.57,552.16L338.39,553.05L338.20,553.94L338.03,554.83L337.85,555.72L337.68,556.61L337.51,557.51L337.35,558.40L337.19,559.30L337.03,560.20L336.88,561.10L336.73,562.00L336.59,562.90L336.44,563.81L336.31,564.71L336.17,565.62L336.04,566.53L335.92,567.43L335.80,568.34L335.68,569.25L335.57,570.16L335.46,571.08L335.36,571.99L335.26,572.90L335.16,573.82L335.07,574.73L334.99,575.65L334.91,576.56L334.83,577.48L334.76,578.40L334.69,579.31L334.63,580.23L334.58,581.15L334.53,582.07L334.48,582.98L334.44,583.90L334.40,584.82L334.38,585.74L334.35,586.66L334.33,587.57L334.32,588.49L334.31,589.41L334.31,590.33L334.32,591.24L334.33,592.16L334.34,593.07L334.36,593.99L334.39,594.90L334.43,595.82L334.47,596.73L334.51,597.64L334.57,598.56L334.63,599.47L334.69,600.38L334.76,601.29L334.84,602.19L334.93,603.10L335.02,604.01L335.12,604.91L335.23,605.81L335.34,606.72L335.46,607.62L335.59,608.52L335.72,609.41L335.86,610.31L336.01,611.21L336.16,612.10L336.33,612.99L336.50,613.88L336.68,614.77L336.86,615.65L337.05,616.54L337.26,617.42L337.46,618.30L337.68,619.18L337.90,620.06L338.14,620.93L338.38,621.80L338.63,622.67L338.88,623.54L339.15,624.40L339.42,625.27L339.70,626.13L339.99,626.98L340.29,627.84L340.59,628.69L340.91,629.54L341.23,630.39L341.57,631.23L341.91,632.07L342.26,632.91L342.62,633.75L342.98,634.58L343.36,635.41L343.75,636.23L344.14,637.06L344.55,637.88L344.96,638.69L345.39,639.51L345.82,640.31L346.26,641.12L346.71,641.92L347.17,642.72L347.64,643.51L348.11,644.29L348.60,645.08L349.09,645.85L349.60,646.62L350.11,647.39L350.63,648.15L351.16,648.90L351.69,649.65L352.24,650.39L352.79,651.13L353.36,651.85L353.93,652.57L354.50,653.29L355.09,653.99L355.69,654.69L356.29,655.38L356.90,656.07L357.52,656.74L358.14,657.41L358.78,658.06L359.42,658.71L360.07,659.35L360.72,659.98L361.39,660.60L362.06,661.22L362.74,661.82L363.42,662.41L364.12,662.99L364.82,663.56L365.52,664.12L366.24,664.67L366.96,665.21L367.69,665.74L368.42,666.25L369.17,666.75L369.92,667.25L370.67,667.73L371.44,668.20L372.20,668.65L372.98,669.10L373.76,669.53L374.55,669.95L375.34,670.36L376.14,670.76L376.95,671.15L377.76,671.53L378.57,671.89L379.40,672.25L380.22,672.59L381.05,672.93L381.89,673.25L382.73,673.57L383.58,673.87L384.43,674.17L385.28,674.45L386.14,674.72L387.01,674.99L387.87,675.25L388.74,675.49L389.62,675.73L390.50,675.96L391.38,676.18L392.26,676.39L393.15,676.59L394.04,676.78L394.94,676.96L395.84,677.14L396.74,677.31L397.64,677.47L398.54,677.62L399.45,677.76L400.36,677.90L401.27,678.03L402.18,678.15L403.10,678.26L404.02,678.36L404.93,678.46L405.85,678.55L406.77,678.63L407.70,678.70L408.62,678.77L409.54,678.83L410.47,678.88L411.39,678.92L412.32,678.95L413.25,678.98L414.17,678.99L415.10,679.00L416.03,679.00L416.96,679.00L417.88,678.98L418.81,678.96L419.74,678.93L420.67,678.89L421.59,678.84L422.52,678.78L423.44,678.72L424.36,678.64L425.29,678.56L426.21,678.47L427.13,678.37L428.04,678.26L428.96,678.15L429.88,678.02L430.79,677.89L431.70,677.75L432.61,677.60L433.52,677.44L434.42,677.27L435.33,677.10L436.23,676.91L437.12,676.72L438.02,676.52L438.91,676.31L439.80,676.09L440.69,675.86L441.57,675.62L442.45,675.37L443.32,675.12L444.20,674.85L445.06,674.58L445.93,674.30L446.79,674.01L447.65,673.71L448.50,673.40L449.35,673.08L450.19,672.75L451.03,672.41L451.87,672.07L452.70,671.71L453.52,671.35L454.34,670.97L455.16,670.59L455.97,670.20L456.77,669.80L457.57,669.39L458.36,668.97L459.15,668.54L459.93,668.10L460.71,667.65L461.48,667.19L462.24,666.72L463.00,666.24L463.75,665.76L464.50,665.26L465.23,664.75L465.96,664.24L466.69,663.71L467.41,663.18L468.12,662.63L468.82,662.08L469.51,661.51L470.20,660.94L470.88,660.35L471.55,659.76L472.22,659.16L472.88,658.54L473.53,657.92L474.17,657.29L474.80,656.65L475.43,656.00L476.04,655.34L476.65,654.67L477.26,654.00L477.85,653.32L478.44,652.62L479.02,651.93L479.59,651.22L480.15,650.51L480.70,649.78L481.25,649.06L481.79,648.32L482.32,647.58L482.84,646.83L483.36,646.08L483.86,645.32L484.36,644.55L484.85,643.78L485.33,643.00L485.81,642.22L486.27,641.43L486.73,640.64L487.18,639.84L487.62,639.04L488.05,638.23L488.48,637.42L488.89,636.60L489.30,635.78L489.70,634.96L490.09,634.13L490.48,633.30L490.85,632.46L491.22,631.63L491.58,630.79L491.93,629.94L492.27,629.10L492.60,628.25L492.93,627.40L493.24,626.55L493.55,625.69L493.85,624.83L494.14,623.97L494.43,623.11L494.70,622.25L494.97,621.38L495.23,620.51L495.49,619.64L495.73,618.77L495.97,617.89L496.20,617.02L496.42,616.14L496.63,615.26L496.84,614.38L497.04,613.49L497.23,612.61L497.41,611.72L497.59,610.83L497.76,609.94L497.92,609.05L498.08,608.15L498.22,607.26L498.36,606.36L498.50,605.47L498.62,604.57L498.74,603.67L498.86,602.77L498.96,601.86L499.06,600.96L499.15,600.06L499.24,599.15L499.31,598.24L499.39,597.34L499.45,596.43L499.51,595.52L499.56,594.61L499.61,593.70L499.65,592.79L499.68,591.88L499.71,590.96L499.73,590.05L499.74,589.14L499.75,588.22L499.75,587.31L499.75,586.39L499.73,585.48L499.72,584.56L499.70,583.65L499.67,582.73L499.63,581.81L499.59,580.90L499.55,579.98L499.50,579.07L499.44,578.15L499.38,577.23L499.31,576.32L499.24,575.40L499.16,574.49L499.07,573.57L498.98,572.65L498.89,571.74L498.79,570.83L498.68,569.91L498.57,569.00L498.45,568.09L498.33,567.17L498.21,566.26L498.08,565.35L497.94,564.44L497.80,563.53L497.65,562.62L497.50,561.71L497.35,560.81L497.19,559.90L497.02,559.00L496.86,558.09L496.68,557.19L496.50,556.29L496.32,555.39L496.13,554.49L495.94,553.59L495.75,552.69L495.55,551.80L495.34,550.90L495.14,550.01L494.92,549.12L494.71,548.23L494.49,547.34L494.26,546.46L494.03,545.57L493.80,544.69L493.57,543.81L493.33,542.93L493.08,542.05L492.84,541.17L492.58,540.30L492.33,539.43L492.07,538.56L491.81,537.69L491.54,536.82L491.27,535.96L491.00,535.09L490.72,534.23L490.44,533.37L490.15,532.51L489.86,531.65L489.57,530.80L489.27,529.95L488.97,529.10L488.67,528.25L488.36,527.40L488.05,526.55L487.73,525.71L487.41,524.86L487.09,524.02L486.76,523.18L486.43,522.34L486.10,521.51L485.76,520.67L485.42,519.84L485.07,519.01L484.73,518.18L484.37,517.35L484.02,516.53L483.66,515.70L483.29,514.88L482.92,514.06L482.55,513.24L482.18,512.42L481.80,511.61L481.42,510.79L481.03,509.98L480.64,509.17L480.25,508.36L479.85,507.56L479.45,506.75L479.04,505.95L478.63,505.14L478.22,504.34L477.81,503.54L477.39,502.75L476.96,501.95L476.54,501.16L476.11,500.37L475.67,499.58L475.24,498.79L474.79,498.00L474.35,497.21L473.90,496.43L473.45,495.65L472.99,494.87L472.53,494.09L472.07,493.31L471.60,492.54L471.13,491.76L470.66,490.99L470.18,490.22L469.70,489.45L469.22,488.68L468.73,487.92L468.24,487.15L467.74,486.39L467.24,485.63L466.74,484.87L466.23,484.12L465.72,483.36L465.21,482.61L464.69,481.86L464.17,481.12L463.65,480.37L463.12,479.63L462.59,478.89L462.06,478.16L461.52,477.42L460.98,476.69L460.43,475.97L459.89,475.24L459.33,474.52L458.78,473.80L458.22,473.08L457.66,472.37L457.09,471.66L456.52,470.96L455.95,470.26L455.37,469.56L454.79,468.86L454.21,468.17L453.63,467.48L453.04,466.80L452.44,466.12L451.85,465.44L451.25,464.77L450.64,464.10L450.04,463.44L449.43,462.78L448.81,462.12L448.20,461.47L447.58,460.82L446.95,460.18L446.33,459.53L445.70,458.90L445.06,458.26L444.43,457.63L443.79,457.00L443.14,456.37L442.50,455.75L441.85,455.12L441.20,454.50L440.54,453.88L439.88,453.27L439.22,452.65L438.55,452.04L437.89,451.43L437.22,450.82L436.54,450.21L435.87,449.60L435.18,448.99L434.50,448.39L433.81,447.79L433.11,447.20L432.41,446.62L431.70,446.05L430.99,445.49L430.27,444.95L429.53,444.42L428.79,443.90L428.04,443.41L427.28,442.93L426.50,442.48L425.72,442.05L424.92,441.65L424.11,441.27L423.28,440.92L422.44,440.60L421.59,440.31L420.71,440.05L419.83,439.83L418.92,439.65L418.00,439.50M418.00,439.50L343.69,533.01M418.00,439.50L490.44,533.37" fill="none" stroke="#00ffff" stroke-width="1.1" stroke-linejoin="round"/>
<line x1="578" y1="637.5" x2="605" y2="637.5" stroke="#ff0000" stroke-width="1"/>
<line x1="578" y1="662.0" x2="605" y2="662.0" stroke="#00ff00" stroke-width="1"/>
<line x1="578" y1="686.3" x2="605" y2="686.3" stroke="#0000ff" stroke-width="1"/>
<line x1="578" y1="710.5" x2="605" y2="710.5" stroke="#00ffff" stroke-width="1"/>
<text x="399.3" y="30" font-size="26.4" text-anchor="middle" transform="translate(0 30) scale(1 0.87) translate(0 -30)" stroke="#000" stroke-width="0.1">LUMINOUS INTENSITY DISTRIBUTION DIAGRAM</text>
<text x="418" y="177.5" font-size="21.7" text-anchor="middle" transform="translate(0 177.5) scale(1 0.9) translate(0 -177.5)" stroke="#000" stroke-width="0.5">−/+18 </text>
<text x="450.56" y="177.5" font-size="20.80" text-anchor="middle" style="font-family:'Liberation Sans',sans-serif" transform="translate(0 177.5) scale(1 0.9) translate(0 -177.5)" stroke="#000" stroke-width="0.5">0</text>
<text x="264" y="211.5" font-size="21.7" text-anchor="middle" transform="translate(0 211.5) scale(1 0.9) translate(0 -211.5)" stroke="#000" stroke-width="0.5">−15 </text>
<text x="283.53" y="211.5" font-size="20.80" text-anchor="middle" style="font-family:'Liberation Sans',sans-serif" transform="translate(0 211.5) scale(1 0.9) translate(0 -211.5)" stroke="#000" stroke-width="0.5">0</text>
<text x="565.5" y="211.5" font-size="21.7" text-anchor="middle" transform="translate(0 211.5) scale(1 0.9) translate(0 -211.5)" stroke="#000" stroke-width="0.5">15 </text>
<text x="578.52" y="211.5" font-size="20.80" text-anchor="middle" style="font-family:'Liberation Sans',sans-serif" transform="translate(0 211.5) scale(1 0.9) translate(0 -211.5)" stroke="#000" stroke-width="0.5">0</text>
<text x="170" y="305" font-size="21.7" text-anchor="middle" transform="translate(0 305) scale(1 0.9) translate(0 -305)" stroke="#000" stroke-width="0.5">−12 </text>
<text x="189.53" y="305" font-size="20.80" text-anchor="middle" style="font-family:'Liberation Sans',sans-serif" transform="translate(0 305) scale(1 0.9) translate(0 -305)" stroke="#000" stroke-width="0.5">0</text>
<text x="659" y="305" font-size="21.7" text-anchor="middle" transform="translate(0 305) scale(1 0.9) translate(0 -305)" stroke="#000" stroke-width="0.5">12 </text>
<text x="672.02" y="305" font-size="20.80" text-anchor="middle" style="font-family:'Liberation Sans',sans-serif" transform="translate(0 305) scale(1 0.9) translate(0 -305)" stroke="#000" stroke-width="0.5">0</text>
<text x="142" y="439" font-size="21.7" text-anchor="middle" transform="translate(0 439) scale(1 0.9) translate(0 -439)" stroke="#000" stroke-width="0.5">−9 </text>
<text x="155.02" y="439" font-size="20.80" text-anchor="middle" style="font-family:'Liberation Sans',sans-serif" transform="translate(0 439) scale(1 0.9) translate(0 -439)" stroke="#000" stroke-width="0.5">0</text>
<text x="687" y="439" font-size="21.7" text-anchor="middle" transform="translate(0 439) scale(1 0.9) translate(0 -439)" stroke="#000" stroke-width="0.5">9 </text>
<text x="693.51" y="439" font-size="20.80" text-anchor="middle" style="font-family:'Liberation Sans',sans-serif" transform="translate(0 439) scale(1 0.9) translate(0 -439)" stroke="#000" stroke-width="0.5">0</text>
<text x="176.5" y="585.5" font-size="21.7" text-anchor="middle" transform="translate(0 585.5) scale(1 0.9) translate(0 -585.5)" stroke="#000" stroke-width="0.5">−6 </text>
<text x="189.52" y="585.5" font-size="20.80" text-anchor="middle" style="font-family:'Liberation Sans',sans-serif" transform="translate(0 585.5) scale(1 0.9) translate(0 -585.5)" stroke="#000" stroke-width="0.5">0</text>
<text x="652.7" y="585.5" font-size="21.7" text-anchor="middle" transform="translate(0 585.5) scale(1 0.9) translate(0 -585.5)" stroke="#000" stroke-width="0.5">6 </text>
<text x="659.21" y="585.5" font-size="20.80" text-anchor="middle" style="font-family:'Liberation Sans',sans-serif" transform="translate(0 585.5) scale(1 0.9) translate(0 -585.5)" stroke="#000" stroke-width="0.5">0</text>
<text x="270" y="679.5" font-size="21.7" text-anchor="middle" transform="translate(0 679.5) scale(1 0.9) translate(0 -679.5)" stroke="#000" stroke-width="0.5">−3 </text>
<text x="283.02" y="679.5" font-size="20.80" text-anchor="middle" style="font-family:'Liberation Sans',sans-serif" transform="translate(0 679.5) scale(1 0.9) translate(0 -679.5)" stroke="#000" stroke-width="0.5">0</text>
<text x="558.7" y="679.5" font-size="21.7" text-anchor="middle" transform="translate(0 679.5) scale(1 0.9) translate(0 -679.5)" stroke="#000" stroke-width="0.5">3 </text>
<text x="565.21" y="679.5" font-size="20.80" text-anchor="middle" style="font-family:'Liberation Sans',sans-serif" transform="translate(0 679.5) scale(1 0.9) translate(0 -679.5)" stroke="#000" stroke-width="0.5">0</text>
<text x="418" y="714.5" font-size="21.7" text-anchor="middle" transform="translate(0 714.5) scale(1 0.9) translate(0 -714.5)" stroke="#000" stroke-width="0.5"> </text>
<text x="418.00" y="714.5" font-size="20.80" text-anchor="middle" style="font-family:'Liberation Sans',sans-serif" transform="translate(0 714.5) scale(1 0.9) translate(0 -714.5)" stroke="#000" stroke-width="0.5">0</text>
<text x="418" y="436.9" font-size="21.8" text-anchor="middle" transform="translate(0 436.9) scale(1 0.96) translate(0 -436.9)" stroke="#000" stroke-width="0.5"> </text>
<text x="418.00" y="436.9" font-size="20.90" text-anchor="middle" style="font-family:'Liberation Sans',sans-serif" transform="translate(0 436.9) scale(1 0.96) translate(0 -436.9)" stroke="#000" stroke-width="0.5">0</text>
<text x="418" y="487.4" font-size="21.8" text-anchor="middle" transform="translate(0 487.4) scale(1 0.96) translate(0 -487.4)" stroke="#000" stroke-width="0.5">13 </text>
<text x="431.08" y="487.4" font-size="20.90" text-anchor="middle" style="font-family:'Liberation Sans',sans-serif" transform="translate(0 487.4) scale(1 0.96) translate(0 -487.4)" stroke="#000" stroke-width="0.5">0</text>
<text x="418" y="537.5" font-size="21.8" text-anchor="middle" transform="translate(0 537.5) scale(1 0.96) translate(0 -537.5)" stroke="#000" stroke-width="0.5">26 </text>
<text x="431.08" y="537.5" font-size="20.90" text-anchor="middle" style="font-family:'Liberation Sans',sans-serif" transform="translate(0 537.5) scale(1 0.96) translate(0 -537.5)" stroke="#000" stroke-width="0.5">0</text>
<text x="418" y="587.4" font-size="21.8" text-anchor="middle" transform="translate(0 587.4) scale(1 0.96) translate(0 -587.4)" stroke="#000" stroke-width="0.5">39 </text>
<text x="431.08" y="587.4" font-size="20.90" text-anchor="middle" style="font-family:'Liberation Sans',sans-serif" transform="translate(0 587.4) scale(1 0.96) translate(0 -587.4)" stroke="#000" stroke-width="0.5">0</text>
<text x="418" y="637.1" font-size="21.8" text-anchor="middle" transform="translate(0 637.1) scale(1 0.96) translate(0 -637.1)" stroke="#000" stroke-width="0.5">52 </text>
<text x="431.08" y="637.1" font-size="20.90" text-anchor="middle" style="font-family:'Liberation Sans',sans-serif" transform="translate(0 637.1) scale(1 0.96) translate(0 -637.1)" stroke="#000" stroke-width="0.5">0</text>
<text x="418" y="686.8" font-size="21.8" text-anchor="middle" transform="translate(0 686.8) scale(1 0.96) translate(0 -686.8)" stroke="#000" stroke-width="0.5">65 </text>
<text x="431.08" y="686.8" font-size="20.90" text-anchor="middle" style="font-family:'Liberation Sans',sans-serif" transform="translate(0 686.8) scale(1 0.96) translate(0 -686.8)" stroke="#000" stroke-width="0.5">0</text>
<text x="642.5" y="617" font-size="19.3" font-weight="bold" text-anchor="start" transform="translate(0 617) scale(1 0.87) translate(0 -617)">UNIT:cd</text>
<text x="610" y="640.5" font-size="19.2" text-anchor="start" transform="translate(0 640.5) scale(1 0.87) translate(0 -640.5)" stroke="#000" stroke-width="0.3">C /18 ,77.8</text>
<text x="627.28" y="640.5" font-size="18.41" text-anchor="middle" style="font-family:'Liberation Sans',sans-serif" transform="translate(0 640.5) scale(1 0.87) translate(0 -640.5)" stroke="#000" stroke-width="0.3">0</text>
<text x="673.37" y="640.5" font-size="18.41" text-anchor="middle" style="font-family:'Liberation Sans',sans-serif" transform="translate(0 640.5) scale(1 0.87) translate(0 -640.5)" stroke="#000" stroke-width="0.3">0</text>
<text x="610" y="664.75" font-size="19.2" text-anchor="start" transform="translate(0 664.75) scale(1 0.87) translate(0 -664.75)" stroke="#000" stroke-width="0.3">C3 /21 ,77.8</text>
<text x="638.80" y="664.75" font-size="18.41" text-anchor="middle" style="font-family:'Liberation Sans',sans-serif" transform="translate(0 664.75) scale(1 0.87) translate(0 -664.75)" stroke="#000" stroke-width="0.3">0</text>
<text x="684.89" y="664.75" font-size="18.41" text-anchor="middle" style="font-family:'Liberation Sans',sans-serif" transform="translate(0 664.75) scale(1 0.87) translate(0 -664.75)" stroke="#000" stroke-width="0.3">0</text>
<text x="610" y="689.0" font-size="19.2" text-anchor="start" transform="translate(0 689.0) scale(1 0.87) translate(0 -689.0)" stroke="#000" stroke-width="0.3">C6 /24 ,76.9</text>
<text x="638.80" y="689.0" font-size="18.41" text-anchor="middle" style="font-family:'Liberation Sans',sans-serif" transform="translate(0 689.0) scale(1 0.87) translate(0 -689.0)" stroke="#000" stroke-width="0.3">0</text>
<text x="684.89" y="689.0" font-size="18.41" text-anchor="middle" style="font-family:'Liberation Sans',sans-serif" transform="translate(0 689.0) scale(1 0.87) translate(0 -689.0)" stroke="#000" stroke-width="0.3">0</text>
<text x="610" y="713.25" font-size="19.2" text-anchor="start" transform="translate(0 713.25) scale(1 0.87) translate(0 -713.25)" stroke="#000" stroke-width="0.3">C9 /27 ,76. </text>
<text x="638.80" y="713.25" font-size="18.41" text-anchor="middle" style="font-family:'Liberation Sans',sans-serif" transform="translate(0 713.25) scale(1 0.87) translate(0 -713.25)" stroke="#000" stroke-width="0.3">0</text>
<text x="684.89" y="713.25" font-size="18.41" text-anchor="middle" style="font-family:'Liberation Sans',sans-serif" transform="translate(0 713.25) scale(1 0.87) translate(0 -713.25)" stroke="#000" stroke-width="0.3">0</text>
<text x="742.50" y="713.25" font-size="18.41" text-anchor="middle" style="font-family:'Liberation Sans',sans-serif" transform="translate(0 713.25) scale(1 0.87) translate(0 -713.25)" stroke="#000" stroke-width="0.3">0</text>
<text x="418" y="731" font-size="21.8" font-weight="bold" text-anchor="middle" transform="translate(0 731) scale(1 0.87) translate(0 -731)">AVERAGE BEAM ANGLE(5 %):77.1 DEG</text>
<text x="476.87" y="731" font-size="20.90" font-weight="bold" text-anchor="middle" style="font-family:'Liberation Sans',sans-serif" transform="translate(0 731) scale(1 0.87) translate(0 -731)">0</text>
</svg>
</body></html>
